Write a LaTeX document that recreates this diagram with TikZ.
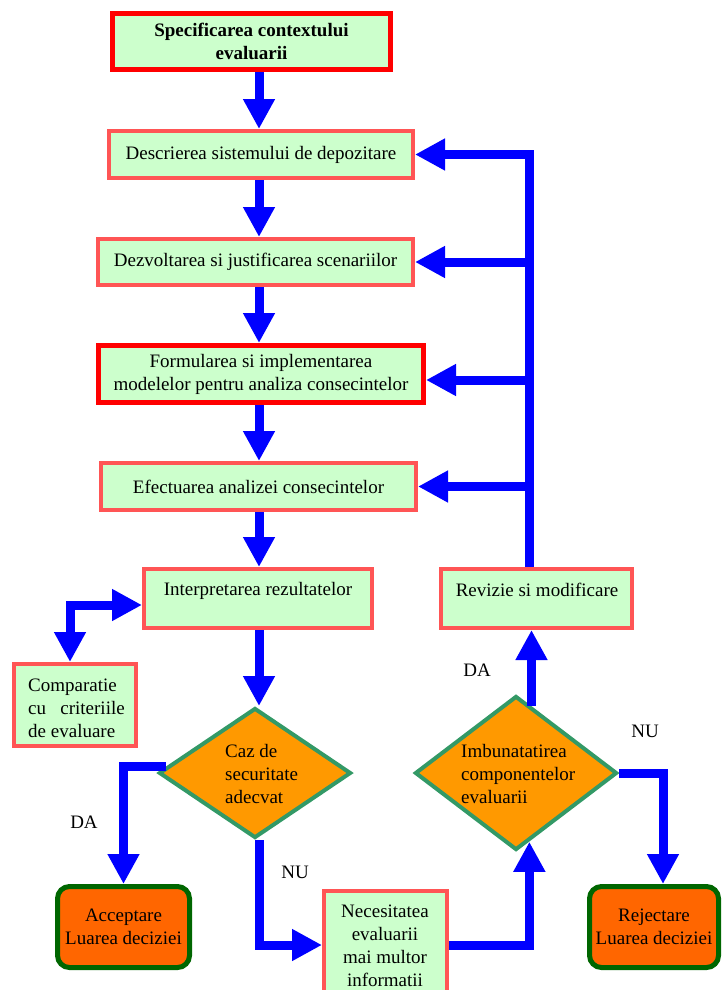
\documentclass[tikz,border=0pt]{standalone}
\usepackage{fontspec}
\setmainfont{Liberation Serif}
\usetikzlibrary{arrows.meta,shapes.geometric}
\definecolor{boxfill}{HTML}{CCFFCC}
\definecolor{boxred}{HTML}{FF0000}
\definecolor{boxsalmon}{HTML}{FF5555}
\definecolor{decfill}{HTML}{FF9900}
\definecolor{decline}{HTML}{339966}
\definecolor{termfill}{HTML}{FF6600}
\definecolor{termline}{HTML}{006600}
\definecolor{flow}{HTML}{0000FF}
\begin{document}
\begin{tikzpicture}[x=1pt,y=-1pt,
  txt/.style={font=\fontsize{19}{23}\selectfont, inner sep=0pt, align=center},
  stepbox/.style={draw=boxsalmon, fill=boxfill, line width=4pt, inner sep=0pt, font=\fontsize{19}{23}\selectfont, align=center},
  keybox/.style={draw=boxred, fill=boxfill, line width=5pt, inner sep=0pt, font=\fontsize{19}{23}\selectfont, align=center},
  decbox/.style={diamond, draw=decline, fill=decfill, line width=4pt, inner sep=0pt},
  termbox/.style={draw=termline, fill=termfill, line width=5pt, rounded corners=12pt, inner sep=0pt, font=\fontsize{19}{23}\selectfont, align=center},
  flowarr/.style={draw=flow, line width=9pt, line join=miter, -{Triangle[length=30pt,width=30pt]}},
  flowboth/.style={draw=flow, line width=9pt, line join=miter, {Triangle[length=30pt,width=30pt]}-{Triangle[length=30pt,width=30pt]}},
]
\useasboundingbox (0,0) rectangle (722,990);

% column / row helpers
\coordinate (cA) at (259,0);
\coordinate (cR) at (529,0);
\coordinate (cU) at (531,0);
\coordinate (cL) at (70,0);
\coordinate (cN) at (663,0);
\coordinate (rowF) at (0,380);
\coordinate (rowI) at (0,605);

% boxes
\node[keybox, minimum width=278pt, minimum height=56pt, font=\bfseries\fontsize{19}{23}\selectfont] (b1) at (251.5,41.5) {Specificarea contextului\\evaluarii};
\node[stepbox, minimum width=304pt, minimum height=47pt] (b2) at (261,154.5) {Descrierea sistemului de depozitare};
\node[stepbox, minimum width=315pt, minimum height=46pt] (b3) at (255.5,262) {Dezvoltarea si justificarea scenariilor};
\node[keybox, minimum width=325pt, minimum height=57pt] (b4) at (261,374) {Formularea si implementarea\\modelelor pentru analiza consecintelor};
\node[stepbox, minimum width=315pt, minimum height=47pt] (b5) at (258.5,486.5) {Efectuarea analizei consecintelor};
\node[stepbox, minimum width=228pt, minimum height=59pt] (b6) at (258,598.5) {};
\node[txt] (b6t) at (258,591) {Interpretarea rezultatelor};
\node[stepbox, minimum width=191pt, minimum height=59pt] (rev) at (536.5,598.5) {};
\node[txt] (revt) at (537,590) {Revizie si modificare};
\node[stepbox, minimum width=122pt, minimum height=82pt] (comp) at (75,705) {};
\node[txt, align=left, anchor=west] (compt) at (28,708) {Comparatie\\cu~~~criteriile\\de evaluare};
\node[stepbox, minimum width=123pt, minimum height=108pt] (nec) at (385.5,945) {};
\node[txt] (nect) at (385,945.5) {Necesitatea\\evaluarii\\mai multor\\informatii};

% decisions
\node[decbox, minimum width=192pt, minimum height=130pt] (d1) at (255,773) {};
\node[txt, align=left, anchor=west] (d1t) at (225,773.5) {Caz de\\securitate\\adecvat};
\node[decbox, minimum width=202pt, minimum height=154pt] (d2) at (516,773) {};
\node[txt, align=left, anchor=west] (d2t) at (461,773.5) {Imbunatatirea\\componentelor\\evaluarii};

% terminals
\node[termbox, minimum width=132pt, minimum height=81pt] (acc) at (123.5,927) {Acceptare\\Luarea deciziei};
\node[termbox, minimum width=129pt, minimum height=81pt] (rej) at (654,927) {Rejectare\\Luarea deciziei};

% main flow
\draw[flowarr] (b1.south -| cA) -- (b2.north -| cA);
\draw[flowarr] (b2.south -| cA) -- (b3.north -| cA);
\draw[flowarr] (b3.south -| cA) -- (b4.north -| cA);
\draw[flowarr] (b4.south -| cA) -- (b5.north -| cA);
\draw[flowarr] (b5.south -| cA) -- (b6.north -| cA);
\draw[flowarr] (b6.south -| cA) -- (d1.north -| cA);

% feedback
\draw[flowarr] (rev.north -| cR) |- (b2.east);
\draw[flowarr] (b3.east -| cR) -- (b3.east);
\draw[flowarr] (rowF -| cR) -- (rowF -| b4.east);
\draw[flowarr] (b5.east -| cR) -- (b5.east);

% comparison
\draw[flowboth] (comp.north -| cL) |- (rowI -| b6.west);

% decisions
\draw[flowarr] (d1.176) -| (acc.north);
\draw[flowarr] (d1.south -| cA) |- (nec.west);
\draw[flowarr] (nec.east) -| (d2.281);
\draw[flowarr] (d2.77) -- (d2.77 |- rev.south);
\draw[flowarr] (d2.east) -| (rej.north -| cN);

% labels
\node[txt] (lda1) at (84,822) {DA};
\node[txt] (lnu1) at (295,872) {NU};
\node[txt] (lda2) at (477,670) {DA};
\node[txt] (lnu2) at (645,731) {NU};
\end{tikzpicture}
\end{document}
